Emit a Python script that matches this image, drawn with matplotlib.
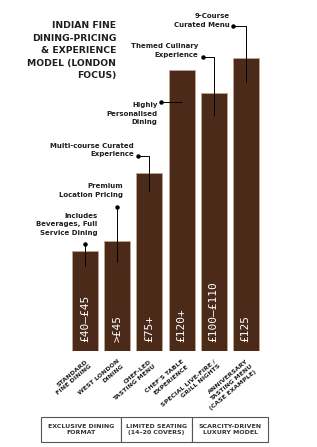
import matplotlib
matplotlib.use('Agg')
import matplotlib.pyplot as plt

# data
categories = ['STANDARD\nFINE DINING', 'WEST LONDON\nDINING', 'CHEF-LED\nTASTING MENU',
              "CHEF'S TABLE\nEXPERIENCE", 'SPECIAL LIVE-FIRE /\nGRILL NIGHTS',
              'ANNIVERSARY\nTASTING MENU\n(CASE EXAMPLE)']
prices = [42.5, 47, 76, 120, 110, 125]
price_labels = ['£40–£45', '>£45', '£75+', '£120+', '£100–£110', '£125']
notes = ['Includes\nBeverages, Full\nService Dining', 'Premium\nLocation Pricing',
         'Multi-course Curated\nExperience', 'Highly\nPersonalised\nDining',
         'Themed Culinary\nExperience', '9-Course\nCurated Menu']
footer = ['EXCLUSIVE DINING\nFORMAT', 'LIMITED SEATING\n(14–20 COVERS)', 'SCARCITY-DRIVEN\nLUXURY MODEL']

# annotation layout: text anchor (x, y), dot (x, y), end of leader inside the bar
note_text = [(0.383, 54.1), (1.187, 68.5), (1.526, 85.7), (2.252, 101.3), (3.523, 128.3), (4.489, 141.1)]
note_dot = [(0.0, 45.6), (1.0, 61.4), (1.636, 83.4), (2.361, 106.2), (3.660, 125.7), (4.604, 138.8)]
note_end = [36.3, 38.0, 67.8, 106.2, 100.4, 114.9]

BAR = '#4b2a1a'
INK = '#1e1e1e'

fig = plt.figure(figsize=(3.17, 4.47), dpi=100)
ax = fig.add_axes([0.218, 0.2148, 0.6079, 0.7405])

x = range(len(prices))
ax.bar(x, prices, width=0.81, color=BAR, edgecolor='#c4a48a', linewidth=0.6, zorder=2)

for i, lab in enumerate(price_labels):
    ax.text(i, 4, lab, rotation=90, ha='center', va='bottom', color='white',
            family='DejaVu Sans Mono', fontsize=8, zorder=4)

for i in range(len(notes)):
    tx, ty = note_text[i]
    dx, dy = note_dot[i]
    ax.text(tx, ty, notes[i], ha='right', va='center', fontsize=5, fontweight='bold',
            color=INK, linespacing=1.45)
    ax.plot([dx, i, i], [dy, dy, note_end[i]], color='black', lw=0.7, zorder=3,
            solid_capstyle='butt')
    ax.plot([dx], [dy], 'o', color='black', ms=2.2, zorder=3)

ax.set_xlim(-0.5, 5.5)
ax.set_ylim(0, 141.3)
ax.set_yticks([])
ax.set_xticks(list(x))
ax.set_xticklabels(categories, rotation=40, ha='right', va='top', rotation_mode='anchor',
                   fontsize=4.5, fontweight='bold', color=INK, linespacing=1.4)
ax.tick_params(axis='x', length=0, pad=5.5)
for s in ax.spines.values():
    s.set_visible(False)

fig.text(0.366, 0.887, 'INDIAN FINE\nDINING-PRICING\n& EXPERIENCE\nMODEL (LONDON\nFOCUS)',
         ha='right', va='center', fontsize=6.7, fontweight='bold', color=INK, linespacing=1.5)

# footer box
tax = fig.add_axes([0.1293, 0.0112, 0.716, 0.0559])
tax.axis('off')
widths = [79.7, 71.6, 75.7]
tot = sum(widths)
tbl = tax.table(cellText=[footer], colWidths=[w / tot for w in widths], bbox=[0, 0, 1, 1],
                cellLoc='center')
tbl.auto_set_font_size(False)
for (r, c), cell in tbl.get_celld().items():
    cell.set_edgecolor('#555555')
    cell.set_linewidth(0.8)
    cell.get_text().set_fontsize(4.5)
    cell.get_text().set_fontweight('bold')
    cell.get_text().set_color('#333333')
    cell.get_text().set_linespacing(1.4)

fig.savefig('out.png', dpi=100)
